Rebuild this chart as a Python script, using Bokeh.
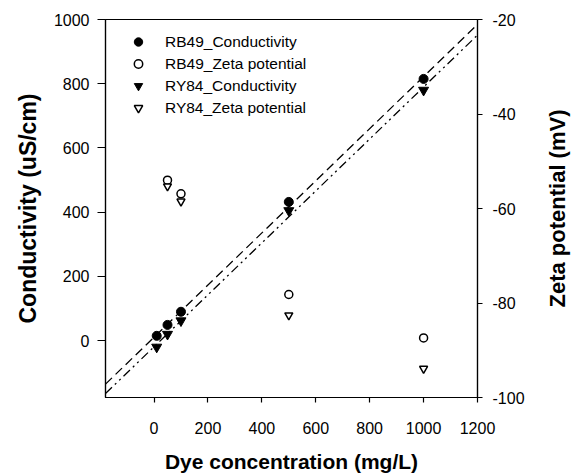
import numpy as np
from bokeh.plotting import figure
from bokeh.layouts import row
from bokeh.models import (Range1d, LinearAxis, FixedTicker, Legend, LegendItem,
                          PrintfTickFormatter)
from bokeh.core.validation import silence
from bokeh.core.validation.warnings import MISSING_RENDERERS
from bokeh.embed import file_html
from bokeh.resources import INLINE

# ---- data ----
conc = [10, 50, 100, 500, 1000]
rb49_cond = [15, 49, 90, 432, 815]
ry84_cond = [-20, 20, 62, 405, 780]
zeta_conc = [50, 100, 500, 1000]
rb49_zeta = [-54.0, -56.9, -78.2, -87.4]
ry84_zeta = [-55.3, -58.5, -82.6, -93.9]

x_ticks = [0, 200, 400, 600, 800, 1000, 1200]
y_ticks = [0, 200, 400, 600, 800, 1000]
z_ticks = [-100, -80, -60, -40, -20]

FONT = "Liberation Sans"
silence(MISSING_RENDERERS, True)

x0, x1 = -180, 1200
z0, z1 = -100, -20
TOP, BOTTOM = 19, 76
p = figure(width=541, height=475, output_backend="svg", toolbar_location=None,
           x_range=Range1d(x0, x1), y_range=Range1d(-177, 1000),
           min_border_left=105, min_border_right=64, min_border_top=TOP, min_border_bottom=BOTTOM)
p.extra_y_ranges = {"zeta": Range1d(z0, z1)}
p.grid.visible = False
p.outline_line_color = "black"
p.outline_line_width = 1.2
p.background_fill_color = "white"
p.border_fill_color = "white"

# regression lines fitted from data
xs = np.array([x0, x1], dtype=float)
k1, b1 = np.polyfit(conc, rb49_cond, 1)
k2, b2 = np.polyfit(conc, ry84_cond, 1)
p.line(xs, k1 * xs + b1, line_color="black", line_width=1.3, line_dash="9 5")
p.line(xs, k2 * xs + b2, line_color="black", line_width=1.3, line_dash="9 4 2 4 2 4")

r1 = p.scatter(conc, rb49_cond, marker="circle", size=9, fill_color="black", line_color="black")
r2 = p.scatter(zeta_conc, rb49_zeta, marker="circle", size=8, fill_color="white",
               line_color="black", line_width=1.5, y_range_name="zeta")
r3 = p.scatter(conc, ry84_cond, marker="inverted_triangle", size=10, fill_color="black", line_color="black")
r4 = p.scatter(zeta_conc, ry84_zeta, marker="inverted_triangle", size=8, fill_color="white",
               line_color="black", line_width=1.5, y_range_name="zeta")

legend = Legend(items=[
    LegendItem(label="RB49_Conductivity", renderers=[r1]),
    LegendItem(label="RB49_Zeta potential", renderers=[r2]),
    LegendItem(label="RY84_Conductivity", renderers=[r3]),
    LegendItem(label="RY84_Zeta potential", renderers=[r4]),
], location="top_left")
legend.margin = 12
legend.padding = 0
legend.spacing = 1
legend.glyph_width = 42
legend.glyph_height = 21
legend.label_height = 21
legend.label_standoff = 6
legend.border_line_color = None
legend.background_fill_alpha = 0
legend.label_text_font = FONT
legend.label_text_font_size = "15.5px"
legend.label_text_color = "black"
p.add_layout(legend)

zaxis = LinearAxis(y_range_name="zeta")
p.add_layout(zaxis, "right")

xa = p.xaxis[0]
ya = p.yaxis[0]
xa.ticker = FixedTicker(ticks=x_ticks)
ya.ticker = FixedTicker(ticks=y_ticks)
zaxis.ticker = FixedTicker(ticks=z_ticks)
zaxis.formatter = PrintfTickFormatter(format="%d")

xa.axis_label = "Dye concentration (mg/L)"
ya.axis_label = "Conductivity (uS/cm)"

for ax, tout, stand, lstand, lsize in [(xa, 5, 19, 13, "21px"), (ya, 8, 8, 10, "23px"), (zaxis, 5, 10, 0, "22px")]:
    ax.major_tick_out = tout
    ax.major_tick_in = 0
    ax.minor_tick_out = 0
    ax.minor_tick_in = 0
    ax.major_label_standoff = stand
    ax.axis_label_standoff = lstand
    ax.major_label_text_font = FONT
    ax.major_label_text_font_size = "16px"
    ax.major_label_text_color = "black"
    ax.axis_label_text_font = FONT
    ax.axis_label_text_font_style = "bold"
    ax.axis_label_text_font_size = lsize
    ax.axis_label_text_color = "black"
    ax.axis_line_color = "black"
    ax.axis_line_width = 1.2
    ax.major_tick_line_color = "black"
    ax.major_tick_line_width = 1.2

# narrow companion figure carrying the right-hand title (reads bottom-to-top)
q = figure(width=30, height=475, output_backend="svg", toolbar_location=None,
           x_range=Range1d(0, 1), y_range=Range1d(z0, z1),
           min_border_left=28, min_border_right=0, min_border_top=TOP, min_border_bottom=BOTTOM)
q.xaxis.visible = False
q.grid.visible = False
q.outline_line_color = None
q.background_fill_color = "white"
q.border_fill_color = "white"
qa = q.yaxis[0]
qa.ticker = FixedTicker(ticks=[])
qa.axis_line_color = None
qa.major_tick_line_color = None
qa.minor_tick_line_color = None
qa.major_tick_out = 0
qa.major_tick_in = 0
qa.minor_tick_out = 0
qa.minor_tick_in = 0
qa.major_label_standoff = 0
qa.axis_label = "Zeta potential (mV)"
qa.axis_label_standoff = 0
qa.axis_label_text_font = FONT
qa.axis_label_text_font_style = "bold"
qa.axis_label_text_font_size = "22px"
qa.axis_label_text_color = "black"

layout = row(p, q)
open("out.html", "w").write(file_html(layout, INLINE))
